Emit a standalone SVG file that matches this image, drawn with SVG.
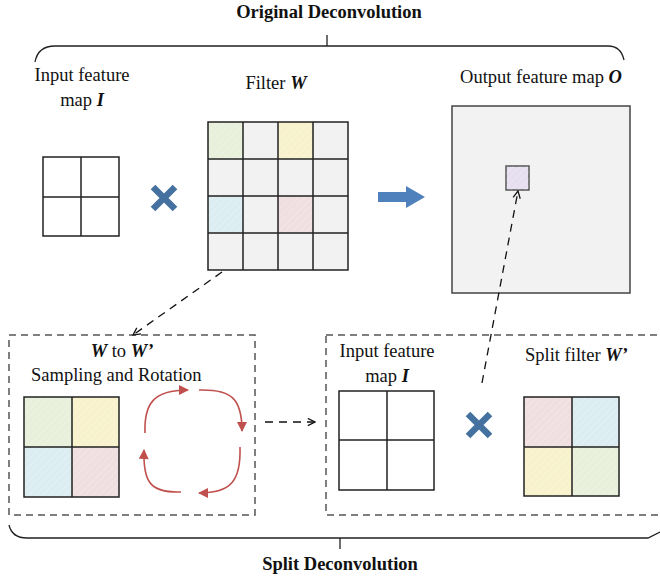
<svg xmlns="http://www.w3.org/2000/svg" width="660" height="580" viewBox="0 0 660 580">
<style>
text{font-family:"Liberation Serif","Times New Roman",serif;font-size:18.5px;fill:#111}
.title{font-weight:bold;text-anchor:middle}
.bi{font-weight:bold;font-style:italic}
.mid{text-anchor:middle}
.grid{stroke:#222;stroke-width:1.5;fill:none}
.box{stroke:#444;stroke-width:1.5;fill:#f2f2f2}
.dbox{stroke:#555;stroke-width:1.5;fill:none;stroke-dasharray:7 5}
.brace{stroke:#222;stroke-width:1.3;fill:none}
.dash{stroke:#111;stroke-width:1.3;fill:none;stroke-dasharray:8 6}
.rot{stroke:#c0504d;stroke-width:1.6;fill:none;marker-end:url(#red)}
.cross{stroke:#44719f;stroke-width:6.5;stroke-linecap:butt}
</style>
<defs>
<pattern id="hatch" width="5" height="5" patternUnits="userSpaceOnUse" patternTransform="rotate(45)">
<line x1="0" y1="0" x2="0" y2="5" stroke="#ffffff" stroke-opacity="0.25" stroke-width="1.5"/>
</pattern>
<marker id="red" viewBox="0 0 10 10" refX="9" refY="5" markerWidth="11" markerHeight="10" orient="auto" markerUnits="userSpaceOnUse">
<path d="M0,0 L10,5 L0,10 z" fill="#c0504d"/>
</marker>
<marker id="open" viewBox="0 0 10 10" refX="9" refY="5" markerWidth="9" markerHeight="9" orient="auto" markerUnits="userSpaceOnUse">
<path d="M1,1 L9,5 L1,9" fill="none" stroke="#111" stroke-width="1.4"/>
</marker>
</defs>

<text class="title" x="329" y="18">Original Deconvolution</text>
<g id="brace-top">
<path class="brace" d="M327,35 V46 M35,62 Q38,46 55,46 H608 Q621,46 624,60"/>
</g>

<g id="input-top">
<text class="mid" x="82" y="81">Input feature</text>
<text class="mid" x="82" y="106">map <tspan class="bi">I</tspan></text>
<rect x="43" y="157" width="76" height="79" fill="#fff"/>
<path class="grid" d="M43,157 H119 V236 H43 Z M81,157 V236 M43,197 H119"/>
</g>

<g id="cross-top">
<path class="cross" d="M153,187 L175,209 M175,187 L153,209"/>
</g>

<g id="filter-W">
<text class="mid" x="276" y="89">Filter <tspan class="bi">W</tspan></text>
<rect x="208" y="122" width="140" height="148" fill="#f2f2f2"/>
<rect x="208" y="122" width="35" height="37" fill="#e8f0dc"/>
<rect x="278" y="122" width="35" height="37" fill="#f8f2cc"/>
<rect x="208" y="196" width="35" height="37" fill="#dcedf2"/>
<rect x="278" y="196" width="35" height="37" fill="#f0dfe1"/>
<rect x="208" y="122" width="35" height="37" fill="url(#hatch)"/>
<rect x="278" y="122" width="35" height="37" fill="url(#hatch)"/>
<rect x="208" y="196" width="35" height="37" fill="url(#hatch)"/>
<rect x="278" y="196" width="35" height="37" fill="url(#hatch)"/>
<path class="grid" d="M208,122 H348 V270 H208 Z M243,122 V270 M278,122 V270 M313,122 V270 M208,159 H348 M208,196 H348 M208,233 H348"/>
</g>

<g id="arrow-blue">
<path d="M378,192 H406 V186 L425,197 L406,208 V202 H378 Z" fill="#4f81bd"/>
</g>

<g id="output-O">
<text class="mid" x="541" y="83">Output feature map <tspan class="bi">O</tspan></text>
<rect class="box" x="452" y="106" width="178" height="187"/>
<rect x="506" y="166" width="23" height="24" fill="#e6dff0" stroke="#555" stroke-width="1.5"/>
<rect x="506" y="166" width="23" height="24" fill="url(#hatch)"/>
</g>

<g id="rotation-box">
<rect class="dbox" x="9" y="335" width="246" height="180"/>
<text class="mid" x="122" y="357"><tspan class="bi">W</tspan> to <tspan class="bi">W’</tspan></text>
<text x="31" y="381">Sampling and Rotation</text>
<rect x="24" y="397" width="48" height="50" fill="#e8f0dc"/>
<rect x="72" y="397" width="47" height="50" fill="#f8f2cc"/>
<rect x="24" y="447" width="48" height="50" fill="#dcedf2"/>
<rect x="72" y="447" width="47" height="50" fill="#f0dfe1"/>
<rect x="24" y="397" width="95" height="100" fill="url(#hatch)"/>
<path class="grid" d="M24,397 H119 V497 H24 Z M72,397 V497 M24,447 H119"/>
<path class="rot" d="M145,433 C144,404 153,390 188,390"/>
<path class="rot" d="M199,390 C232,389 242,399 242,431"/>
<path class="rot" d="M240,447 C241,481 231,493 199,493"/>
<path class="rot" d="M181,492 C150,493 143,482 144,450"/>
</g>

<g id="split-box">
<rect class="dbox" x="326" y="335" width="340" height="180"/>
<text class="mid" x="387" y="357">Input feature</text>
<text class="mid" x="387" y="382">map <tspan class="bi">I</tspan></text>
<rect x="339" y="391" width="95" height="99" fill="#fff"/>
<path class="grid" d="M339,391 H434 V490 H339 Z M387,391 V490 M339,440 H434"/>
<path class="cross" d="M468,414 L490,436 M490,414 L468,436"/>
<text x="525" y="361">Split filter <tspan class="bi">W’</tspan></text>
<rect x="524" y="397" width="48" height="50" fill="#f0dfe1"/>
<rect x="572" y="397" width="47" height="50" fill="#dcedf2"/>
<rect x="524" y="447" width="48" height="49" fill="#f8f2cc"/>
<rect x="572" y="447" width="47" height="49" fill="#e8f0dc"/>
<rect x="524" y="397" width="95" height="99" fill="url(#hatch)"/>
<path class="grid" d="M524,397 H619 V496 H524 Z M572,397 V496 M524,447 H619" stroke="#333"/>
</g>

<g id="connectors">
<path class="dash" d="M222,272 L133,335" marker-end="url(#open)"/>
<path class="dash" d="M265,422 H315" marker-end="url(#open)"/>
<path class="dash" d="M482,383 L518,191" marker-end="url(#open)"/>
</g>

<g id="brace-bottom">
<path class="brace" d="M9,525 Q12,538 27,538 H648 L660,532 M340,538 V549"/>
</g>
<text class="title" x="340" y="570">Split Deconvolution</text>
</svg>
